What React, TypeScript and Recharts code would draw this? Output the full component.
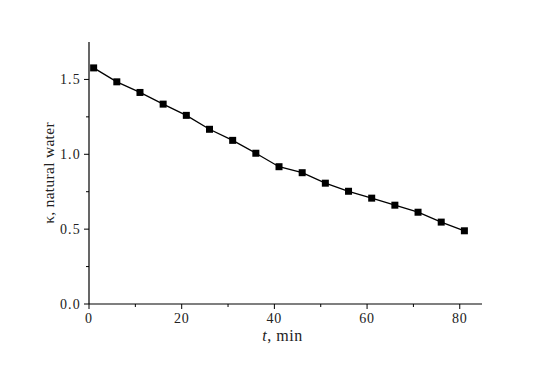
import { LineChart, Line, XAxis, YAxis } from "recharts";

const times = [1, 6, 11, 16, 21, 26, 31, 36, 41, 46, 51, 56, 61, 66, 71, 76, 81];
const kappa = [1.577, 1.484, 1.413, 1.335, 1.26, 1.167, 1.093, 1.007, 0.917, 0.877, 0.807, 0.753, 0.707, 0.66, 0.613, 0.547, 0.489];

const xTicks = [0, 10, 20, 30, 40, 50, 60, 70, 80];
const xMajor = [0, 20, 40, 60, 80];
const yTicks = [0, 0.25, 0.5, 0.75, 1, 1.25, 1.5];
const yMajor = [0, 0.5, 1, 1.5];

const data = times.map((t, i) => ({ t, k: kappa[i] }));

const FONT = "Liberation Serif";

const XTick = (props: any) => {
  const { x, y, payload } = props;
  const major = xMajor.includes(payload.value);
  return (
    <g>
      <line x1={x} x2={x} y1={y} y2={y + (major ? 5 : 3)} stroke="#000" strokeWidth={1} />
      {major && (
        <text x={x} y={y + 19} textAnchor="middle" style={{ fontFamily: FONT }} fontSize={14} letterSpacing={0.8} fill="#222">
          {payload.value}
        </text>
      )}
    </g>
  );
};

const YTick = (props: any) => {
  const { x, y, payload } = props;
  const major = yMajor.includes(payload.value);
  return (
    <g>
      <line x1={x - (major ? 5 : 3)} x2={x} y1={y} y2={y} stroke="#000" strokeWidth={1} />
      {major && (
        <text x={x - 8} y={y + 4.5} textAnchor="end" style={{ fontFamily: FONT }} fontSize={14} letterSpacing={1.2} fill="#222">
          {payload.value.toFixed(1)}
        </text>
      )}
    </g>
  );
};

const XLabel = (props: any) => {
  const vb = props.viewBox;
  return (
    <text x={vb.x + vb.width / 2 - 3} y={vb.y + 37} textAnchor="middle" style={{ fontFamily: FONT }} fontSize={16} letterSpacing={0.5} fill="#222">
      <tspan fontStyle="italic">t</tspan>
      <tspan>, min</tspan>
    </text>
  );
};

const YLabel = (props: any) => {
  const vb = props.viewBox;
  const cx = 49;
  const cy = vb.y + vb.height / 2;
  return (
    <text x={cx} y={cy} transform={`rotate(-90 ${cx} ${cy})`} textAnchor="middle" dy={5} style={{ fontFamily: FONT }} fontSize={15.5} letterSpacing={0.3} fill="#222">
      κ, natural water
    </text>
  );
};

const Square = (props: any) => {
  const { cx, cy, index } = props;
  return <rect key={`sq-${index}`} x={cx - 3.5} y={cy - 3.5} width={7} height={7} fill="#000" />;
};

export default function App() {
  return (
    <div style={{ width: 547, height: 365, background: "#fff" }}>
      <style>{`body { margin: 0; background: #fff; }`}</style>
      <LineChart width={547} height={365} data={data} margin={{ top: 42, right: 65, bottom: 0, left: 0 }}>
        <XAxis
          dataKey="t"
          type="number"
          domain={[0, 84.8]}
          ticks={xTicks}
          interval={0}
          height={61}
          tickSize={0}
          tickMargin={0}
          tickLine={false}
          axisLine={{ stroke: "#000", strokeWidth: 1.2 }}
          tick={<XTick />}
          label={XLabel}
        />
        <YAxis
          type="number"
          domain={[0, 1.75]}
          ticks={yTicks}
          interval={0}
          width={89}
          tickSize={0}
          tickMargin={0}
          tickLine={false}
          axisLine={{ stroke: "#000", strokeWidth: 1.2 }}
          tick={<YTick />}
          label={YLabel}
        />
        <Line
          type="linear"
          dataKey="k"
          stroke="#000"
          strokeWidth={1.3}
          dot={Square}
          activeDot={false}
          isAnimationActive={false}
        />
      </LineChart>
    </div>
  );
}
